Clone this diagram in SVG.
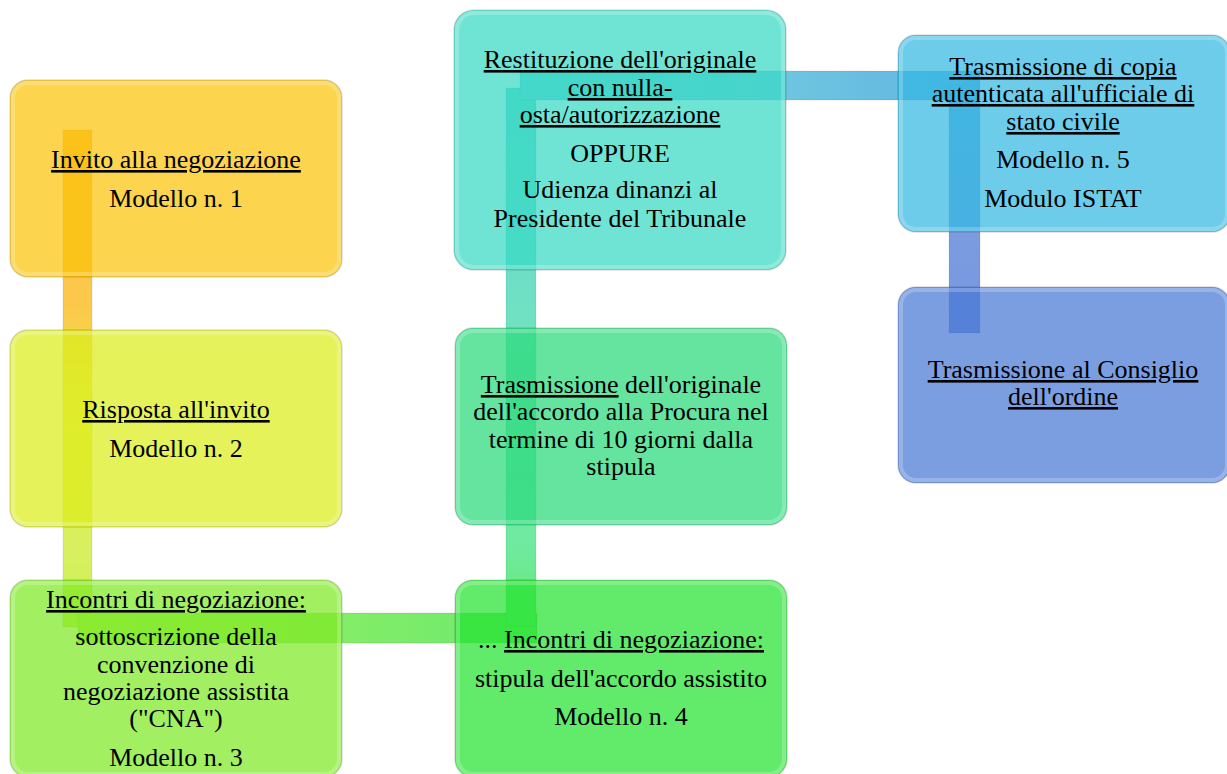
<svg xmlns="http://www.w3.org/2000/svg" width="1227" height="774" viewBox="0 0 1227 774">
<style>
  .t { font-family: "Liberation Serif", "Times New Roman", serif; font-size: 26px; fill: #000; text-anchor: middle; }
  .u { text-decoration: underline; }
  .box { stroke: #000; stroke-opacity: 0.13; stroke-width: 1.5; }
  .rim { fill: none; stroke: #fff; stroke-opacity: 0.22; stroke-width: 4; }
  .bar { stroke: #000; stroke-opacity: 0.08; stroke-width: 1; }
</style>
<defs>
  <linearGradient id="gA" x1="0" y1="130" x2="0" y2="627" gradientUnits="userSpaceOnUse">
    <stop offset="0" stop-color="#fbc24a"/>
    <stop offset="0.35" stop-color="#fcc84a"/>
    <stop offset="0.55" stop-color="#ecea50"/>
    <stop offset="0.85" stop-color="#d8f060"/>
    <stop offset="1" stop-color="#c8f050"/>
  </linearGradient>
  <linearGradient id="gB" x1="78" y1="0" x2="537" y2="0" gradientUnits="userSpaceOnUse">
    <stop offset="0" stop-color="#a8f050"/>
    <stop offset="0.5" stop-color="#88ee66"/>
    <stop offset="1" stop-color="#6ae86e"/>
  </linearGradient>
  <linearGradient id="gC" x1="0" y1="88" x2="0" y2="626" gradientUnits="userSpaceOnUse">
    <stop offset="0" stop-color="#5ed6d0"/>
    <stop offset="0.4" stop-color="#70e0c4"/>
    <stop offset="0.85" stop-color="#70eaa0"/>
    <stop offset="1" stop-color="#66e872"/>
  </linearGradient>
  <linearGradient id="gD" x1="520" y1="0" x2="980" y2="0" gradientUnits="userSpaceOnUse">
    <stop offset="0" stop-color="#60d4d8"/>
    <stop offset="0.5" stop-color="#70c8e0"/>
    <stop offset="1" stop-color="#60b4e0"/>
  </linearGradient>
  <linearGradient id="gE" x1="0" y1="85" x2="0" y2="333" gradientUnits="userSpaceOnUse">
    <stop offset="0" stop-color="#68b0e2"/>
    <stop offset="0.6" stop-color="#7b9ce0"/>
    <stop offset="1" stop-color="#7896e0"/>
  </linearGradient>
</defs>

<g id="connectors">
  <rect class="bar" x="63" y="130" width="29" height="497" fill="url(#gA)"/>
  <rect class="bar" x="78" y="613" width="459" height="30" fill="url(#gB)"/>
  <rect class="bar" x="506" y="88" width="30" height="538" fill="url(#gC)"/>
  <rect class="bar" x="520" y="71" width="460" height="29" fill="url(#gD)"/>
  <rect class="bar" x="949" y="85" width="31" height="248" fill="url(#gE)"/>
</g>

<g id="node1">
  <rect class="box" x="10" y="80" width="332" height="197" rx="18" fill="#fbc309" fill-opacity="0.72"/>
  <rect class="rim" x="13" y="83" width="326" height="191" rx="15"/>
  <text class="t u" x="176" y="168">Invito alla negoziazione</text>
  <text class="t" x="176" y="207">Modello n. 1</text>
</g>

<g id="node2">
  <rect class="box" x="10" y="330" width="332" height="197" rx="18" fill="#dbed1a" fill-opacity="0.72"/>
  <rect class="rim" x="13" y="333" width="326" height="191" rx="15"/>
  <text class="t u" x="176" y="418">Risposta all'invito</text>
  <text class="t" x="176" y="457">Modello n. 2</text>
</g>

<g id="node3">
  <rect class="box" x="10" y="580" width="332" height="197" rx="18" fill="#7fe925" fill-opacity="0.72"/>
  <rect class="rim" x="13" y="583" width="326" height="191" rx="15"/>
  <text class="t u" x="176" y="608">Incontri di negoziazione:</text>
  <text class="t" x="176" y="645">sottoscrizione della</text>
  <text class="t" x="176" y="673">convenzione di</text>
  <text class="t" x="176" y="700">negoziazione assistita</text>
  <text class="t" x="176" y="727">("CNA")</text>
  <text class="t" x="176" y="766">Modello n. 3</text>
</g>

<g id="node4">
  <rect class="box" x="455" y="580" width="332" height="197" rx="18" fill="#25e330" fill-opacity="0.72"/>
  <rect class="rim" x="458" y="583" width="326" height="191" rx="15"/>
  <text class="t" x="621" y="648">... <tspan class="u">Incontri di negoziazione:</tspan></text>
  <text class="t" x="621" y="687">stipula dell'accordo assistito</text>
  <text class="t" x="621" y="725">Modello n. 4</text>
</g>

<g id="node5">
  <rect class="box" x="455" y="328" width="332" height="197" rx="18" fill="#2ada7b" fill-opacity="0.72"/>
  <rect class="rim" x="458" y="331" width="326" height="191" rx="15"/>
  <text class="t" x="621" y="393"><tspan class="u">Trasmissione</tspan> dell'originale</text>
  <text class="t" x="621" y="420">dell'accordo alla Procura nel</text>
  <text class="t" x="621" y="448">termine di 10 giorni dalla</text>
  <text class="t" x="621" y="475">stipula</text>
</g>

<g id="node6">
  <rect class="box" x="454" y="10" width="332" height="260" rx="20" fill="#38dac3" fill-opacity="0.72"/>
  <rect class="rim" x="457" y="13" width="326" height="254" rx="17"/>
  <text class="t u" x="620" y="68">Restituzione dell'originale</text>
  <text class="t u" x="620" y="96">con nulla-</text>
  <text class="t u" x="620" y="123">osta/autorizzazione</text>
  <text class="t" x="620" y="162">OPPURE</text>
  <text class="t" x="620" y="198">Udienza dinanzi al</text>
  <text class="t" x="620" y="227">Presidente del Tribunale</text>
</g>

<g id="node7">
  <rect class="box" x="898" y="35" width="332" height="197" rx="18" fill="#33b8e2" fill-opacity="0.72"/>
  <rect class="rim" x="901" y="38" width="326" height="191" rx="15"/>
  <text class="t u" x="1063" y="75">Trasmissione di copia</text>
  <text class="t u" x="1063" y="102">autenticata all'ufficiale di</text>
  <text class="t u" x="1063" y="130">stato civile</text>
  <text class="t" x="1063" y="168">Modello n. 5</text>
  <text class="t" x="1063" y="207">Modulo ISTAT</text>
</g>

<g id="node8">
  <rect class="box" x="898" y="287" width="332" height="196" rx="18" fill="#4878d4" fill-opacity="0.72"/>
  <rect class="rim" x="901" y="290" width="326" height="190" rx="15"/>
  <text class="t u" x="1063" y="378">Trasmissione al Consiglio</text>
  <text class="t u" x="1063" y="405">dell'ordine</text>
</g>
</svg>
